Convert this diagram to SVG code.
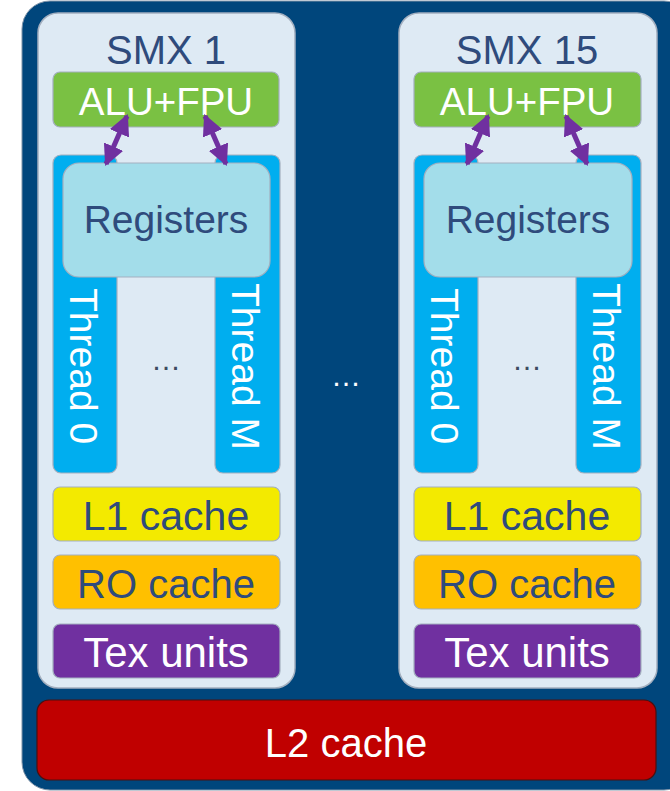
<svg xmlns="http://www.w3.org/2000/svg" width="670" height="791" viewBox="0 0 670 791">
<defs>
<marker id="ah" viewBox="0 0 10 10" refX="9" refY="5" markerWidth="4.2" markerHeight="4.2" orient="auto-start-reverse" markerUnits="strokeWidth">
<path d="M0,0 L10,5 L0,10 z" fill="#7030A0"/>
</marker>
<style>
.t{font-family:"Liberation Sans",Arial,sans-serif;text-anchor:middle;}
.dk{fill:#2F4B7C;}
.wh{fill:#FFFFFF;}
.panel{fill:#DEEAF4;stroke:#A3AFBF;stroke-width:1.5;}
.box{stroke:#A3AFBF;stroke-width:1.2;}
.arr{stroke:#7030A0;stroke-width:5;fill:none;marker-start:url(#ah);marker-end:url(#ah);}
</style>
</defs>
<rect id="gpu" x="22" y="1" width="670" height="789" rx="28" fill="#00467C" stroke="#7F93A8" stroke-width="1"/>

<g id="smx1">
<rect class="panel" x="38" y="13" width="257" height="675" rx="20"/>
<text class="t dk" x="166" y="64" font-size="40">SMX 1</text>
</g>
<g id="alu1">
<rect class="box" x="53" y="72" width="226" height="55" rx="7" fill="#7AC143"/>
<text class="t wh" x="166" y="115" font-size="38.5">ALU+FPU</text>
</g>
<g id="thread0_1">
<rect class="box" x="53" y="155" width="64" height="318" rx="8" fill="#00AEEF"/>
<text class="wh" font-family="Liberation Sans, Arial, sans-serif" font-size="39" transform="translate(70,288) rotate(90)">Thread 0</text>
</g>
<g id="threadM_1">
<rect class="box" x="215" y="155" width="65" height="318" rx="8" fill="#00AEEF"/>
<text class="wh" font-family="Liberation Sans, Arial, sans-serif" font-size="39" transform="translate(232,283) rotate(90)">Thread M</text>
</g>
<g id="registers1">
<rect class="box" x="63" y="163" width="207" height="114" rx="16" fill="#A3DDEA"/>
<text class="t dk" x="166" y="233" font-size="39">Registers</text>
</g>
<g id="dots1">
<text class="t" x="166" y="370" font-size="30" fill="#3C4A60">…</text>
</g>
<g id="l1_1">
<rect class="box" x="53" y="487" width="227" height="54" rx="7" fill="#F3EA00"/>
<text class="t dk" x="166" y="530" font-size="41">L1 cache</text>
</g>
<g id="ro_1">
<rect class="box" x="53" y="555" width="227" height="54" rx="7" fill="#FFC000"/>
<text class="t dk" x="166" y="598" font-size="40">RO cache</text>
</g>
<g id="tex_1">
<rect class="box" x="53" y="624" width="227" height="54" rx="7" fill="#7030A0"/>
<text class="t wh" x="166" y="667" font-size="42">Tex units</text>
</g>

<g id="smx15">
<rect class="panel" x="399" y="13" width="258" height="675" rx="20"/>
<text class="t dk" x="527" y="64" font-size="40">SMX 15</text>
</g>
<g id="alu15">
<rect class="box" x="414" y="72" width="227" height="55" rx="7" fill="#7AC143"/>
<text class="t wh" x="527" y="115" font-size="38.5">ALU+FPU</text>
</g>
<g id="thread0_15">
<rect class="box" x="414" y="155" width="64" height="318" rx="8" fill="#00AEEF"/>
<text class="wh" font-family="Liberation Sans, Arial, sans-serif" font-size="39" transform="translate(431,288) rotate(90)">Thread 0</text>
</g>
<g id="threadM_15">
<rect class="box" x="576" y="155" width="65" height="318" rx="8" fill="#00AEEF"/>
<text class="wh" font-family="Liberation Sans, Arial, sans-serif" font-size="39" transform="translate(593,283) rotate(90)">Thread M</text>
</g>
<g id="registers15">
<rect class="box" x="424" y="163" width="208" height="114" rx="16" fill="#A3DDEA"/>
<text class="t dk" x="528" y="233" font-size="39">Registers</text>
</g>
<g id="dots15">
<text class="t" x="527" y="370" font-size="30" fill="#3C4A60">…</text>
</g>
<g id="l1_15">
<rect class="box" x="414" y="487" width="227" height="54" rx="7" fill="#F3EA00"/>
<text class="t dk" x="527" y="530" font-size="41">L1 cache</text>
</g>
<g id="ro_15">
<rect class="box" x="414" y="555" width="227" height="54" rx="7" fill="#FFC000"/>
<text class="t dk" x="527" y="598" font-size="40">RO cache</text>
</g>
<g id="tex_15">
<rect class="box" x="414" y="624" width="227" height="54" rx="7" fill="#7030A0"/>
<text class="t wh" x="527" y="667" font-size="42">Tex units</text>
</g>

<g id="dots_mid">
<text class="t wh" x="346" y="386" font-size="30">…</text>
</g>
<g id="l2">
<rect x="37" y="700" width="619" height="80" rx="12" fill="#C00000" stroke="#4A1010" stroke-width="1.2"/>
<text class="t wh" x="346" y="757" font-size="40">L2 cache</text>
</g>

<g id="connectors">
<line class="arr" x1="127" y1="116" x2="106" y2="164"/>
<line class="arr" x1="205" y1="116" x2="226" y2="164"/>
<line class="arr" x1="488" y1="116" x2="467" y2="164"/>
<line class="arr" x1="566" y1="116" x2="587" y2="164"/>
</g>
</svg>
